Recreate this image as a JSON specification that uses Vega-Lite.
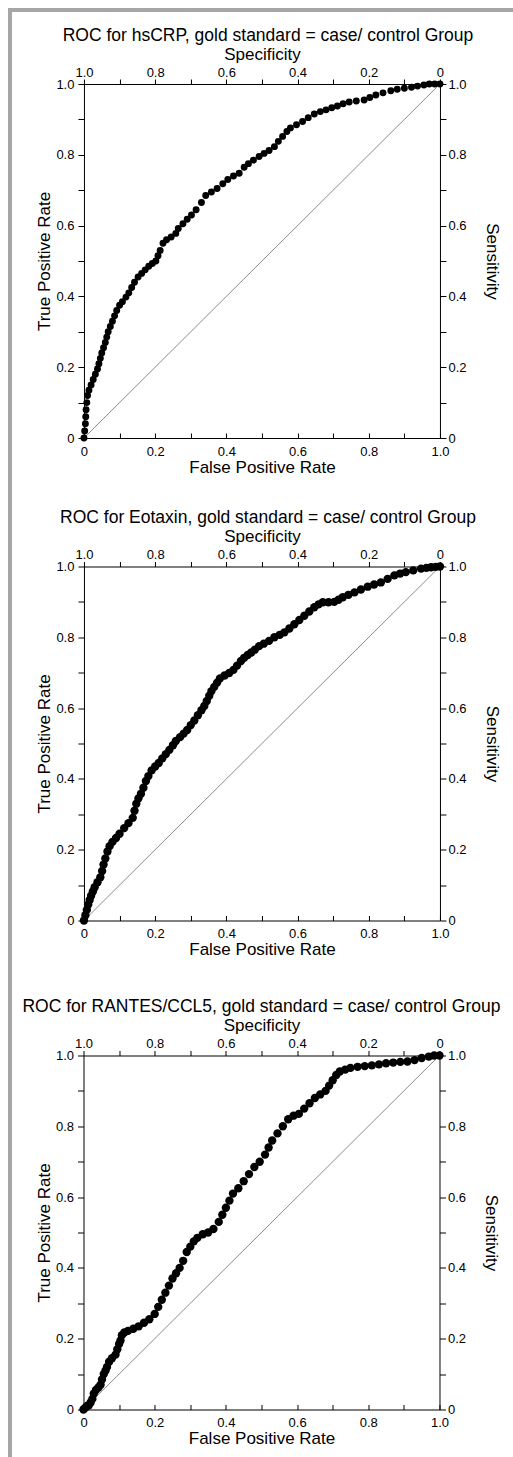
{
  "$schema": "https://vega.github.io/schema/vega-lite/v6.json",
  "padding": {"left": 8, "top": 8, "right": 0, "bottom": 0},
  "background": "white",
  "config": {
    "font": "Liberation Sans",
    "view": {"stroke": null},
    "axis": {"grid": false, "domainColor": "#000", "tickColor": "#000", "labelColor": "#000", "titleColor": "#000", "labelFontSize": 13, "titleFontSize": 17, "titleFontWeight": "normal", "labelFlush": false, "labelOverlap": false, "domainWidth": 1, "tickWidth": 1},
    "axisTop": {"tickSize": 5, "labelPadding": 0, "titlePadding": 3},
    "axisBottom": {"tickSize": -5, "labelPadding": 12, "titlePadding": 1},
    "axisLeft": {"tickSize": 6, "labelPadding": 4, "titlePadding": 2},
    "axisRight": {"tickSize": 6, "labelPadding": 2, "titlePadding": 16},
    "title": {"fontSize": 17.5, "fontWeight": "normal", "anchor": "middle", "offset": 1, "color": "#000"}
  },
  "datasets": {
    "diagonal": [{"fpr": 0, "tpr": 0}, {"fpr": 1, "tpr": 1}],
    "hscrp": [
      {"fpr":0,"tpr":0},{"fpr":0.002,"tpr":0.02},{"fpr":0.004,"tpr":0.04},{"fpr":0.005,"tpr":0.06},{"fpr":0.006,"tpr":0.08},{"fpr":0.008,"tpr":0.1},{"fpr":0.01,"tpr":0.12},{"fpr":0.014,"tpr":0.135},{"fpr":0.02,"tpr":0.15},{"fpr":0.026,"tpr":0.165},{"fpr":0.032,"tpr":0.18},{"fpr":0.038,"tpr":0.195},{"fpr":0.042,"tpr":0.21},{"fpr":0.046,"tpr":0.225},{"fpr":0.05,"tpr":0.24},{"fpr":0.055,"tpr":0.255},{"fpr":0.06,"tpr":0.27},{"fpr":0.064,"tpr":0.285},{"fpr":0.068,"tpr":0.3},{"fpr":0.074,"tpr":0.315},{"fpr":0.08,"tpr":0.33},{"fpr":0.086,"tpr":0.345},{"fpr":0.092,"tpr":0.36},{"fpr":0.1,"tpr":0.375},{"fpr":0.108,"tpr":0.385},{"fpr":0.118,"tpr":0.398},{"fpr":0.126,"tpr":0.41},{"fpr":0.134,"tpr":0.425},{"fpr":0.142,"tpr":0.44},{"fpr":0.152,"tpr":0.455},{"fpr":0.162,"tpr":0.465},{"fpr":0.172,"tpr":0.475},{"fpr":0.182,"tpr":0.485},{"fpr":0.192,"tpr":0.493},{"fpr":0.202,"tpr":0.5},{"fpr":0.208,"tpr":0.515},{"fpr":0.214,"tpr":0.53},{"fpr":0.222,"tpr":0.55},{"fpr":0.232,"tpr":0.56},{"fpr":0.245,"tpr":0.568},{"fpr":0.258,"tpr":0.578},{"fpr":0.265,"tpr":0.592},{"fpr":0.278,"tpr":0.605},{"fpr":0.29,"tpr":0.618},{"fpr":0.302,"tpr":0.63},{"fpr":0.315,"tpr":0.645},{"fpr":0.33,"tpr":0.665},{"fpr":0.342,"tpr":0.685},{"fpr":0.358,"tpr":0.695},{"fpr":0.374,"tpr":0.705},{"fpr":0.39,"tpr":0.718},{"fpr":0.404,"tpr":0.73},{"fpr":0.42,"tpr":0.74},{"fpr":0.436,"tpr":0.748},{"fpr":0.45,"tpr":0.765},{"fpr":0.462,"tpr":0.775},{"fpr":0.476,"tpr":0.785},{"fpr":0.492,"tpr":0.795},{"fpr":0.506,"tpr":0.804},{"fpr":0.52,"tpr":0.812},{"fpr":0.535,"tpr":0.823},{"fpr":0.546,"tpr":0.838},{"fpr":0.558,"tpr":0.852},{"fpr":0.57,"tpr":0.866},{"fpr":0.58,"tpr":0.876},{"fpr":0.597,"tpr":0.885},{"fpr":0.614,"tpr":0.894},{"fpr":0.63,"tpr":0.905},{"fpr":0.647,"tpr":0.915},{"fpr":0.664,"tpr":0.922},{"fpr":0.68,"tpr":0.927},{"fpr":0.696,"tpr":0.933},{"fpr":0.712,"tpr":0.938},{"fpr":0.728,"tpr":0.944},{"fpr":0.745,"tpr":0.949},{"fpr":0.765,"tpr":0.952},{"fpr":0.787,"tpr":0.955},{"fpr":0.803,"tpr":0.962},{"fpr":0.82,"tpr":0.969},{"fpr":0.84,"tpr":0.975},{"fpr":0.862,"tpr":0.981},{"fpr":0.88,"tpr":0.985},{"fpr":0.9,"tpr":0.988},{"fpr":0.92,"tpr":0.991},{"fpr":0.937,"tpr":0.994},{"fpr":0.955,"tpr":0.997},{"fpr":0.97,"tpr":1},{"fpr":0.985,"tpr":1},{"fpr":1,"tpr":1}
    ],
    "eotaxin": [
      {"fpr":0,"tpr":0},{"fpr":0.004,"tpr":0.015},{"fpr":0.008,"tpr":0.03},{"fpr":0.012,"tpr":0.045},{"fpr":0.016,"tpr":0.058},{"fpr":0.02,"tpr":0.07},{"fpr":0.025,"tpr":0.082},{"fpr":0.03,"tpr":0.094},{"fpr":0.038,"tpr":0.108},{"fpr":0.046,"tpr":0.122},{"fpr":0.051,"tpr":0.14},{"fpr":0.055,"tpr":0.158},{"fpr":0.06,"tpr":0.175},{"fpr":0.066,"tpr":0.195},{"fpr":0.072,"tpr":0.21},{"fpr":0.08,"tpr":0.222},{"fpr":0.09,"tpr":0.233},{"fpr":0.1,"tpr":0.245},{"fpr":0.113,"tpr":0.261},{"fpr":0.125,"tpr":0.275},{"fpr":0.137,"tpr":0.29},{"fpr":0.142,"tpr":0.31},{"fpr":0.147,"tpr":0.33},{"fpr":0.153,"tpr":0.345},{"fpr":0.16,"tpr":0.358},{"fpr":0.167,"tpr":0.375},{"fpr":0.174,"tpr":0.394},{"fpr":0.181,"tpr":0.408},{"fpr":0.19,"tpr":0.424},{"fpr":0.2,"tpr":0.435},{"fpr":0.21,"tpr":0.445},{"fpr":0.22,"tpr":0.458},{"fpr":0.23,"tpr":0.47},{"fpr":0.24,"tpr":0.482},{"fpr":0.25,"tpr":0.495},{"fpr":0.258,"tpr":0.507},{"fpr":0.27,"tpr":0.518},{"fpr":0.28,"tpr":0.528},{"fpr":0.29,"tpr":0.538},{"fpr":0.3,"tpr":0.552},{"fpr":0.31,"tpr":0.565},{"fpr":0.32,"tpr":0.58},{"fpr":0.33,"tpr":0.594},{"fpr":0.338,"tpr":0.606},{"fpr":0.345,"tpr":0.62},{"fpr":0.352,"tpr":0.635},{"fpr":0.358,"tpr":0.648},{"fpr":0.366,"tpr":0.66},{"fpr":0.374,"tpr":0.672},{"fpr":0.382,"tpr":0.684},{"fpr":0.395,"tpr":0.692},{"fpr":0.408,"tpr":0.699},{"fpr":0.42,"tpr":0.708},{"fpr":0.43,"tpr":0.72},{"fpr":0.441,"tpr":0.733},{"fpr":0.45,"tpr":0.742},{"fpr":0.46,"tpr":0.75},{"fpr":0.47,"tpr":0.757},{"fpr":0.48,"tpr":0.765},{"fpr":0.492,"tpr":0.775},{"fpr":0.505,"tpr":0.782},{"fpr":0.52,"tpr":0.79},{"fpr":0.535,"tpr":0.8},{"fpr":0.55,"tpr":0.807},{"fpr":0.563,"tpr":0.814},{"fpr":0.577,"tpr":0.825},{"fpr":0.591,"tpr":0.837},{"fpr":0.605,"tpr":0.849},{"fpr":0.619,"tpr":0.861},{"fpr":0.633,"tpr":0.873},{"fpr":0.647,"tpr":0.885},{"fpr":0.659,"tpr":0.893},{"fpr":0.671,"tpr":0.899},{"fpr":0.687,"tpr":0.899},{"fpr":0.703,"tpr":0.9},{"fpr":0.715,"tpr":0.906},{"fpr":0.727,"tpr":0.913},{"fpr":0.743,"tpr":0.92},{"fpr":0.76,"tpr":0.927},{"fpr":0.778,"tpr":0.935},{"fpr":0.797,"tpr":0.943},{"fpr":0.815,"tpr":0.949},{"fpr":0.834,"tpr":0.955},{"fpr":0.853,"tpr":0.965},{"fpr":0.872,"tpr":0.975},{"fpr":0.888,"tpr":0.98},{"fpr":0.904,"tpr":0.984},{"fpr":0.925,"tpr":0.989},{"fpr":0.947,"tpr":0.994},{"fpr":0.962,"tpr":0.996},{"fpr":0.975,"tpr":0.998},{"fpr":0.988,"tpr":0.999},{"fpr":1,"tpr":1}
    ],
    "rantes": [
      {"fpr":0,"tpr":0},{"fpr":0.005,"tpr":0.005},{"fpr":0.01,"tpr":0.01},{"fpr":0.015,"tpr":0.012},{"fpr":0.02,"tpr":0.02},{"fpr":0.025,"tpr":0.03},{"fpr":0.029,"tpr":0.045},{"fpr":0.035,"tpr":0.055},{"fpr":0.042,"tpr":0.062},{"fpr":0.048,"tpr":0.07},{"fpr":0.052,"tpr":0.085},{"fpr":0.057,"tpr":0.1},{"fpr":0.062,"tpr":0.11},{"fpr":0.066,"tpr":0.12},{"fpr":0.072,"tpr":0.135},{"fpr":0.08,"tpr":0.145},{"fpr":0.09,"tpr":0.155},{"fpr":0.095,"tpr":0.17},{"fpr":0.1,"tpr":0.185},{"fpr":0.104,"tpr":0.195},{"fpr":0.108,"tpr":0.21},{"fpr":0.115,"tpr":0.218},{"fpr":0.125,"tpr":0.222},{"fpr":0.14,"tpr":0.228},{"fpr":0.155,"tpr":0.235},{"fpr":0.17,"tpr":0.245},{"fpr":0.185,"tpr":0.255},{"fpr":0.2,"tpr":0.27},{"fpr":0.21,"tpr":0.29},{"fpr":0.22,"tpr":0.31},{"fpr":0.23,"tpr":0.33},{"fpr":0.24,"tpr":0.35},{"fpr":0.25,"tpr":0.37},{"fpr":0.26,"tpr":0.385},{"fpr":0.27,"tpr":0.4},{"fpr":0.28,"tpr":0.42},{"fpr":0.29,"tpr":0.445},{"fpr":0.3,"tpr":0.46},{"fpr":0.31,"tpr":0.475},{"fpr":0.32,"tpr":0.485},{"fpr":0.335,"tpr":0.495},{"fpr":0.35,"tpr":0.5},{"fpr":0.365,"tpr":0.51},{"fpr":0.38,"tpr":0.53},{"fpr":0.39,"tpr":0.55},{"fpr":0.4,"tpr":0.57},{"fpr":0.41,"tpr":0.59},{"fpr":0.42,"tpr":0.61},{"fpr":0.435,"tpr":0.625},{"fpr":0.45,"tpr":0.645},{"fpr":0.465,"tpr":0.665},{"fpr":0.48,"tpr":0.685},{"fpr":0.495,"tpr":0.7},{"fpr":0.51,"tpr":0.72},{"fpr":0.52,"tpr":0.74},{"fpr":0.53,"tpr":0.76},{"fpr":0.545,"tpr":0.78},{"fpr":0.56,"tpr":0.8},{"fpr":0.575,"tpr":0.82},{"fpr":0.59,"tpr":0.83},{"fpr":0.605,"tpr":0.835},{"fpr":0.62,"tpr":0.85},{"fpr":0.635,"tpr":0.865},{"fpr":0.65,"tpr":0.88},{"fpr":0.665,"tpr":0.89},{"fpr":0.68,"tpr":0.9},{"fpr":0.69,"tpr":0.915},{"fpr":0.7,"tpr":0.93},{"fpr":0.71,"tpr":0.945},{"fpr":0.72,"tpr":0.955},{"fpr":0.735,"tpr":0.96},{"fpr":0.75,"tpr":0.965},{"fpr":0.77,"tpr":0.968},{"fpr":0.79,"tpr":0.97},{"fpr":0.81,"tpr":0.972},{"fpr":0.83,"tpr":0.975},{"fpr":0.85,"tpr":0.978},{"fpr":0.87,"tpr":0.98},{"fpr":0.89,"tpr":0.982},{"fpr":0.91,"tpr":0.983},{"fpr":0.93,"tpr":0.987},{"fpr":0.95,"tpr":0.993},{"fpr":0.97,"tpr":0.997},{"fpr":0.985,"tpr":1},{"fpr":1,"tpr":1}
    ]
  },
  "vconcat": [
    {"data": {"values": [{}]}, "mark": {"type": "rect", "color": "#a6a6a6"}, "encoding": {}, "width": 505, "height": 4, "view": {"fill": "#a6a6a6"}},
    {
      "hconcat": [
        {"data": {"values": [{}]}, "mark": {"type": "rect", "color": "#a6a6a6"}, "encoding": {}, "width": 4, "height": 1445, "view": {"fill": "#a6a6a6"}},
        {
          "vconcat": [
            {"data": {"values": []}, "mark": "point", "width": 10, "height": 13.5},
            {
              "vconcat": [
                {
                  "vconcat": [
                    {
                      "title": {"text": "ROC for hsCRP, gold standard = case/ control Group", "dx": 6},
                      "width": 356, "height": 354,
                      "layer": [
                        {"data": {"name": "diagonal"}, "mark": {"type": "line", "color": "#8c8c8c", "strokeWidth": 1},
                         "encoding": {
                           "x": {"field": "fpr", "type": "quantitative", "scale": {"domain": [0, 1], "nice": false, "zero": false}, "axis": {"orient": "top", "title": "Specificity", "values": [0,0.1,0.2,0.3,0.4,0.5,0.6,0.7,0.8,0.9,1], "labelExpr": "round(datum.value*10) % 2 == 1 ? '' : (datum.value == 1 ? '0' : format(1 - datum.value, '.1f'))"}},
                           "y": {"field": "tpr", "type": "quantitative", "scale": {"domain": [0, 1], "nice": false, "zero": false}, "axis": {"orient": "right", "title": "Sensitivity", "values": [0,0.1,0.2,0.3,0.4,0.5,0.6,0.7,0.8,0.9,1], "labelExpr": "round(datum.value*10) % 2 == 1 ? '' : (datum.value == 0 ? '0' : format(datum.value, '.1f'))"}}
                         }},
                        {"data": {"name": "hscrp"}, "mark": {"type": "circle", "color": "#000", "size": 48, "opacity": 1},
                         "encoding": {
                           "x": {"field": "fpr", "type": "quantitative", "scale": {"domain": [0, 1], "nice": false, "zero": false}, "axis": {"orient": "bottom", "title": "False Positive Rate", "values": [0,0.1,0.2,0.3,0.4,0.5,0.6,0.7,0.8,0.9,1], "labelExpr": "round(datum.value*10) % 2 == 1 ? '' : (datum.value == 0 ? '0' : format(datum.value, '.1f'))"}},
                           "y": {"field": "tpr", "type": "quantitative", "scale": {"domain": [0, 1], "nice": false, "zero": false}, "axis": {"orient": "left", "title": "True Positive Rate", "values": [0,0.1,0.2,0.3,0.4,0.5,0.6,0.7,0.8,0.9,1], "labelExpr": "round(datum.value*10) % 2 == 1 ? '' : (datum.value == 0 ? '0' : format(datum.value, '.1f'))"}}
                         }}
                      ],
                      "resolve": {"scale": {"x": "independent", "y": "independent"}, "axis": {"x": "independent", "y": "independent"}}
                    },
                    {
                      "title": {"text": "ROC for Eotaxin, gold standard = case/ control Group", "dx": 6},
                      "width": 356, "height": 354,
                      "layer": [
                        {"data": {"name": "diagonal"}, "mark": {"type": "line", "color": "#8c8c8c", "strokeWidth": 1},
                         "encoding": {
                           "x": {"field": "fpr", "type": "quantitative", "scale": {"domain": [0, 1], "nice": false, "zero": false}, "axis": {"orient": "top", "title": "Specificity", "values": [0,0.1,0.2,0.3,0.4,0.5,0.6,0.7,0.8,0.9,1], "labelExpr": "round(datum.value*10) % 2 == 1 ? '' : (datum.value == 1 ? '0' : format(1 - datum.value, '.1f'))"}},
                           "y": {"field": "tpr", "type": "quantitative", "scale": {"domain": [0, 1], "nice": false, "zero": false}, "axis": {"orient": "right", "title": "Sensitivity", "values": [0,0.1,0.2,0.3,0.4,0.5,0.6,0.7,0.8,0.9,1], "labelExpr": "round(datum.value*10) % 2 == 1 ? '' : (datum.value == 0 ? '0' : format(datum.value, '.1f'))"}}
                         }},
                        {"data": {"name": "eotaxin"}, "mark": {"type": "circle", "color": "#000", "size": 70, "opacity": 1},
                         "encoding": {
                           "x": {"field": "fpr", "type": "quantitative", "scale": {"domain": [0, 1], "nice": false, "zero": false}, "axis": {"orient": "bottom", "title": "False Positive Rate", "values": [0,0.1,0.2,0.3,0.4,0.5,0.6,0.7,0.8,0.9,1], "labelExpr": "round(datum.value*10) % 2 == 1 ? '' : (datum.value == 0 ? '0' : format(datum.value, '.1f'))"}},
                           "y": {"field": "tpr", "type": "quantitative", "scale": {"domain": [0, 1], "nice": false, "zero": false}, "axis": {"orient": "left", "title": "True Positive Rate", "values": [0,0.1,0.2,0.3,0.4,0.5,0.6,0.7,0.8,0.9,1], "labelExpr": "round(datum.value*10) % 2 == 1 ? '' : (datum.value == 0 ? '0' : format(datum.value, '.1f'))"}}
                         }}
                      ],
                      "resolve": {"scale": {"x": "independent", "y": "independent"}, "axis": {"x": "independent", "y": "independent"}}
                    }
                  ],
                  "spacing": 33.5
                },
                {
                  "title": {"text": "ROC for RANTES/CCL5, gold standard = case/ control Group"},
                  "width": 356, "height": 354,
                  "layer": [
                    {"data": {"name": "diagonal"}, "mark": {"type": "line", "color": "#8c8c8c", "strokeWidth": 1},
                     "encoding": {
                       "x": {"field": "fpr", "type": "quantitative", "scale": {"domain": [0, 1], "nice": false, "zero": false}, "axis": {"orient": "top", "title": "Specificity", "values": [0,0.1,0.2,0.3,0.4,0.5,0.6,0.7,0.8,0.9,1], "labelExpr": "round(datum.value*10) % 2 == 1 ? '' : (datum.value == 1 ? '0' : format(1 - datum.value, '.1f'))"}},
                       "y": {"field": "tpr", "type": "quantitative", "scale": {"domain": [0, 1], "nice": false, "zero": false}, "axis": {"orient": "right", "title": "Sensitivity", "values": [0,0.1,0.2,0.3,0.4,0.5,0.6,0.7,0.8,0.9,1], "labelExpr": "round(datum.value*10) % 2 == 1 ? '' : (datum.value == 0 ? '0' : format(datum.value, '.1f'))"}}
                     }},
                    {"data": {"name": "rantes"}, "mark": {"type": "circle", "color": "#000", "size": 70, "opacity": 1},
                     "encoding": {
                       "x": {"field": "fpr", "type": "quantitative", "scale": {"domain": [0, 1], "nice": false, "zero": false}, "axis": {"orient": "bottom", "title": "False Positive Rate", "values": [0,0.1,0.2,0.3,0.4,0.5,0.6,0.7,0.8,0.9,1], "labelExpr": "round(datum.value*10) % 2 == 1 ? '' : (datum.value == 0 ? '0' : format(datum.value, '.1f'))"}},
                       "y": {"field": "tpr", "type": "quantitative", "scale": {"domain": [0, 1], "nice": false, "zero": false}, "axis": {"orient": "left", "title": "True Positive Rate", "values": [0,0.1,0.2,0.3,0.4,0.5,0.6,0.7,0.8,0.9,1], "labelExpr": "round(datum.value*10) % 2 == 1 ? '' : (datum.value == 0 ? '0' : format(datum.value, '.1f'))"}}
                     }}
                  ],
                  "resolve": {"scale": {"x": "independent", "y": "independent"}, "axis": {"x": "independent", "y": "independent"}}
                }
              ],
              "spacing": 39.5,
              "center": true
            }
          ],
          "spacing": 0
        }
      ],
      "spacing": 10
    }
  ],
  "spacing": 0
}
